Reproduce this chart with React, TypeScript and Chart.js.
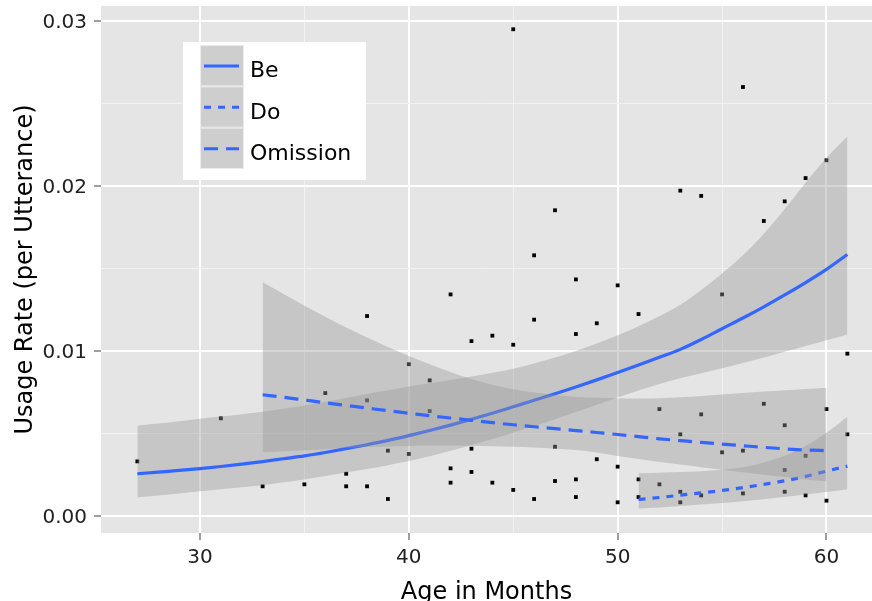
import React, { useEffect, useRef } from "react";
import { Chart, registerables } from "chart.js";

Chart.register(...registerables);

// ---------- data ----------
const pointAges = [
  27, 31, 33, 35, 36, 37, 37, 38, 38, 38, 39, 39, 40, 40, 41, 41, 42, 42, 42,
  43, 43, 43, 44, 44, 45, 45, 45, 46, 46, 46, 47, 47, 47, 48, 48, 48, 48, 49,
  49, 50, 50, 50, 51, 51, 51, 52, 52, 53, 53, 53, 53, 54, 54, 54, 55, 55, 56,
  56, 56, 57, 57, 58, 58, 58, 58, 59, 59, 59, 60, 60, 60, 61, 61,
];
const pointRates = [
  0.00331, 0.00592, 0.0018, 0.00192, 0.00745, 0.00256, 0.0018, 0.01212,
  0.00701, 0.0018, 0.00396, 0.00103, 0.0092, 0.00376, 0.00822, 0.00636,
  0.01343, 0.00289, 0.00202, 0.0106, 0.00408, 0.00267, 0.01093, 0.00202,
  0.0295, 0.01038, 0.00158, 0.0158, 0.0119, 0.00103, 0.01853, 0.0042,
  0.00212, 0.01434, 0.01103, 0.00222, 0.00115, 0.01168, 0.00344, 0.01398,
  0.00299, 0.00083, 0.01224, 0.00222, 0.00115, 0.00648, 0.00192, 0.01972,
  0.00495, 0.00147, 0.00083, 0.0194, 0.00616, 0.00125, 0.01343, 0.00386,
  0.026, 0.00396, 0.00137, 0.01788, 0.0068, 0.01907, 0.0055, 0.00279,
  0.00147, 0.02048, 0.00365, 0.00125, 0.02156, 0.00648, 0.00093, 0.00984,
  0.00495,
];

const beAges = [
  27, 28, 29, 30, 31, 32, 33, 34, 35, 36, 37, 38, 39, 40, 41, 42, 43, 44, 45,
  46, 47, 48, 49, 50, 51, 52, 53, 54, 55, 56, 57, 58, 59, 60, 61,
];
const beFit = [
  0.00256, 0.00266, 0.00276, 0.00287, 0.003, 0.00314, 0.0033, 0.00347,
  0.00364, 0.00385, 0.00408, 0.00432, 0.00458, 0.00487, 0.00518, 0.00551,
  0.00586, 0.00623, 0.00662, 0.00701, 0.00741, 0.00782, 0.00825, 0.0087,
  0.00915, 0.00962, 0.0101, 0.0107, 0.01135, 0.012, 0.01268, 0.0134,
  0.01415, 0.01495, 0.01585,
];
const beLow = [
  0.00113, 0.00125, 0.00137, 0.0015, 0.00162, 0.00174, 0.00187, 0.00204,
  0.00222, 0.00242, 0.00263, 0.00285, 0.00308, 0.00333, 0.00362, 0.00395,
  0.0043, 0.00467, 0.00505, 0.00545, 0.00587, 0.0063, 0.00674, 0.00718,
  0.0076, 0.008, 0.00835, 0.00865, 0.00895, 0.00928, 0.0096, 0.00995,
  0.0103, 0.01065, 0.011,
];
const beHigh = [
  0.00547, 0.0056, 0.00575, 0.0059, 0.00603, 0.00617, 0.00632, 0.0065,
  0.0067, 0.00692, 0.00715, 0.0074, 0.00762, 0.00785, 0.00805, 0.00825,
  0.00845, 0.00868, 0.00893, 0.00925, 0.0096, 0.01, 0.01045, 0.01095,
  0.0115, 0.0121, 0.0128, 0.0137, 0.0147, 0.0158, 0.0171, 0.0186, 0.0202,
  0.0217, 0.023,
];

const doAges = [51, 52, 53, 54, 55, 56, 57, 58, 59, 60, 61];
const doFit = [
  0.001, 0.00112, 0.00126, 0.0014, 0.00155, 0.00172, 0.00192, 0.00213,
  0.0024, 0.00272, 0.00302,
];
const doLow = [
  0.00045, 0.00052, 0.0006, 0.00069, 0.00079, 0.0009, 0.00102, 0.00115,
  0.0013, 0.00145, 0.00162,
];
const doHigh = [
  0.00259, 0.00262, 0.00266, 0.00272, 0.0028, 0.00295, 0.00325, 0.00365,
  0.00425, 0.00505, 0.00602,
];

const omAges = [
  33, 34, 35, 36, 37, 38, 39, 40, 41, 42, 43, 44, 45, 46, 47, 48, 49, 50, 51,
  52, 53, 54, 55, 56, 57, 58, 59, 60,
];
const omFit = [
  0.00735, 0.0072, 0.00703, 0.00686, 0.0067, 0.00654, 0.00638, 0.00623,
  0.00608, 0.00594, 0.0058, 0.00566, 0.00553, 0.00541, 0.0053, 0.00518,
  0.00506, 0.00494, 0.00481, 0.00468, 0.00457, 0.00446, 0.00436, 0.00426,
  0.00416, 0.00407, 0.004, 0.00396,
];
const omLow = [
  0.00386, 0.00392, 0.00398, 0.00405, 0.00412, 0.00418, 0.00422, 0.00425,
  0.00427, 0.00427, 0.00426, 0.00423, 0.0042, 0.00415, 0.00408, 0.004,
  0.00385, 0.00364, 0.00346, 0.00328, 0.00312, 0.00296, 0.0028, 0.00265,
  0.0025, 0.00236, 0.00222, 0.0021,
];
const omHigh = [
  0.01416, 0.01345, 0.01275, 0.01208, 0.01143, 0.01082, 0.01024, 0.0097,
  0.0092, 0.00873, 0.0083, 0.00795, 0.00768, 0.00748, 0.00733, 0.00722,
  0.00716, 0.00713, 0.00712, 0.00714, 0.0072, 0.00728, 0.00737, 0.00746,
  0.00754, 0.00762, 0.0077, 0.00778,
];

const seriesNames = ["Be", "Do", "Omission"];
const xTickValues = [30, 35, 40, 45, 50, 55, 60];
const yTickValues = [0, 0.005, 0.01, 0.015, 0.02, 0.025, 0.03];
const xAxisTitle = "Age in Months";
const yAxisTitle = "Usage Rate (per Utterance)";

// ---------- styles ----------
const FONT = '"DejaVu Sans", sans-serif';
const LINE_COLOR = "#3366FF";
const RIBBON = "rgba(153,153,153,0.4)";
const DASHES: number[][] = [[], [7, 7], [14, 8]];

const zip = (xs: number[], ys: number[]) => xs.map((x, i) => ({ x, y: ys[i] }));
const isMajorX = (v: number) => Math.abs(v % 10) < 1e-9;
const isMajorY = (v: number) => Math.abs(v * 100 - Math.round(v * 100)) < 1e-9;

const panelBg = {
  id: "panelBg",
  beforeDraw(chart: any) {
    const { ctx, chartArea } = chart;
    ctx.save();
    ctx.fillStyle = "#E5E5E5";
    ctx.fillRect(
      chartArea.left,
      chartArea.top,
      chartArea.right - chartArea.left,
      chartArea.bottom - chartArea.top
    );
    ctx.restore();
  },
};

const ggLegend = {
  id: "ggLegend",
  afterDraw(chart: any) {
    const ctx = chart.ctx as CanvasRenderingContext2D;
    ctx.save();
    ctx.fillStyle = "#FFFFFF";
    ctx.fillRect(183, 42, 183, 138);
    const keyH = 41.33;
    seriesNames.forEach((name, i) => {
      const y0 = 45 + i * keyH;
      ctx.fillStyle = "#F2F2F2";
      ctx.fillRect(200, y0, 44, keyH);
      ctx.fillStyle = RIBBON;
      ctx.fillRect(200, y0, 44, keyH);
      ctx.strokeStyle = "rgba(255,255,255,0.6)";
      ctx.lineWidth = 1;
      ctx.setLineDash([]);
      ctx.strokeRect(200.5, y0 + 0.5, 43, keyH - 1);
      ctx.strokeStyle = LINE_COLOR;
      ctx.lineWidth = 3;
      ctx.setLineDash(DASHES[i]);
      ctx.beginPath();
      ctx.moveTo(204, y0 + 21);
      ctx.lineTo(239, y0 + 21);
      ctx.stroke();
      ctx.setLineDash([]);
      ctx.fillStyle = "#000000";
      ctx.font = `22px ${FONT}`;
      ctx.textAlign = "left";
      ctx.textBaseline = "alphabetic";
      ctx.fillText(name, 250, y0 + 32.3);
    });
    ctx.restore();
  },
};

export default function App() {
  const canvasRef = useRef<HTMLCanvasElement | null>(null);

  useEffect(() => {
    document.body.style.margin = "0";
    const canvas = canvasRef.current;
    if (!canvas) return;

    const lineDs = (data: number[], ages: number[], dash: number[]) => ({
      type: "line" as const,
      data: zip(ages, data),
      borderColor: LINE_COLOR,
      borderWidth: 3.2,
      borderDash: dash,
      pointRadius: 0,
      fill: false,
      cubicInterpolationMode: "monotone" as const,
    });
    const ribbonHi = (data: number[], ages: number[]) => ({
      type: "line" as const,
      data: zip(ages, data),
      borderColor: "rgba(0,0,0,0)",
      borderWidth: 0,
      pointRadius: 0,
      backgroundColor: RIBBON,
      fill: "+1",
      cubicInterpolationMode: "monotone" as const,
    });
    const ribbonLo = (data: number[], ages: number[]) => ({
      type: "line" as const,
      data: zip(ages, data),
      borderColor: "rgba(0,0,0,0)",
      borderWidth: 0,
      pointRadius: 0,
      fill: false,
      cubicInterpolationMode: "monotone" as const,
    });

    // first dataset is drawn on top
    const datasets: any[] = [
      lineDs(omFit, omAges, DASHES[2]),
      ribbonHi(omHigh, omAges),
      ribbonLo(omLow, omAges),
      lineDs(doFit, doAges, DASHES[1]),
      ribbonHi(doHigh, doAges),
      ribbonLo(doLow, doAges),
      lineDs(beFit, beAges, DASHES[0]),
      ribbonHi(beHigh, beAges),
      ribbonLo(beLow, beAges),
      {
        type: "scatter" as const,
        data: zip(pointAges, pointRates),
        showLine: false,
        pointStyle: "rect",
        pointRadius: 2.7,
        backgroundColor: "#000000",
        borderWidth: 0,
      },
    ];

    const chart = new Chart(canvas, {
      type: "line",
      data: { datasets },
      plugins: [panelBg, ggLegend],
      options: {
        animation: false,
        responsive: false,
        layout: { padding: { top: 6, left: 0, right: 0, bottom: 0 }, autoPadding: false },
        plugins: { legend: { display: false }, tooltip: { enabled: false } },
        scales: {
          x: {
            type: "linear",
            position: "bottom",
            min: 25.26,
            max: 62.18,
            afterBuildTicks: (scale: any) => {
              scale.ticks = xTickValues.map((v) => ({ value: v }));
            },
            afterFit: (scale: any) => {
              scale.height = 68;
              scale.paddingLeft = 0;
              scale.paddingRight = 0;
            },
            border: { display: false },
            grid: {
              color: (c: any) => (c.tick && isMajorX(c.tick.value) ? "#FFFFFF" : "#F2F2F2"),
              lineWidth: (c: any) => (c.tick && isMajorX(c.tick.value) ? 2 : 1),
              tickColor: (c: any) =>
                c.tick && isMajorX(c.tick.value) ? "#7F7F7F" : "rgba(0,0,0,0)",
              tickLength: 7,
              tickWidth: 1.5,
            },
            ticks: {
              autoSkip: false,
              maxRotation: 0,
              padding: 6,
              color: "#222222",
              font: { family: FONT, size: 20 },
              callback: (v: any) => (isMajorX(Number(v)) ? String(v) : ""),
            },
            title: {
              display: true,
              text: xAxisTitle,
              color: "#000000",
              font: { family: FONT, size: 24, lineHeight: 16 / 24 },
              padding: { top: 0, bottom: 0 },
            },
          },
          y: {
            type: "linear",
            position: "left",
            min: -0.00103,
            max: 0.03091,
            afterBuildTicks: (scale: any) => {
              scale.ticks = yTickValues.map((v) => ({ value: v }));
            },
            afterFit: (scale: any) => {
              scale.width = 101;
              scale.paddingTop = 0;
              scale.paddingBottom = 0;
            },
            border: { display: false },
            grid: {
              color: (c: any) => (c.tick && isMajorY(c.tick.value) ? "#FFFFFF" : "#F2F2F2"),
              lineWidth: (c: any) => (c.tick && isMajorY(c.tick.value) ? 2 : 1),
              tickColor: (c: any) =>
                c.tick && isMajorY(c.tick.value) ? "#7F7F7F" : "rgba(0,0,0,0)",
              tickLength: 7,
              tickWidth: 1.5,
            },
            ticks: {
              autoSkip: false,
              padding: 7,
              labelOffset: 2,
              color: "#222222",
              font: { family: FONT, size: 20 },
              callback: (v: any) => (isMajorY(Number(v)) ? Number(v).toFixed(2) : ""),
            },
            title: {
              display: true,
              text: yAxisTitle,
              color: "#000000",
              font: { family: FONT, size: 24, lineHeight: 16 / 24 },
              padding: { top: 18, bottom: 0 },
            },
          },
        },
      } as any,
    });

    return () => chart.destroy();
  }, []);

  return (
    <div style={{ position: "absolute", left: 0, top: 0, width: 872, height: 601, background: "#FFFFFF" }}>
      <canvas ref={canvasRef} width={872} height={601} style={{ width: 872, height: 601, display: "block" }} />
    </div>
  );
}
